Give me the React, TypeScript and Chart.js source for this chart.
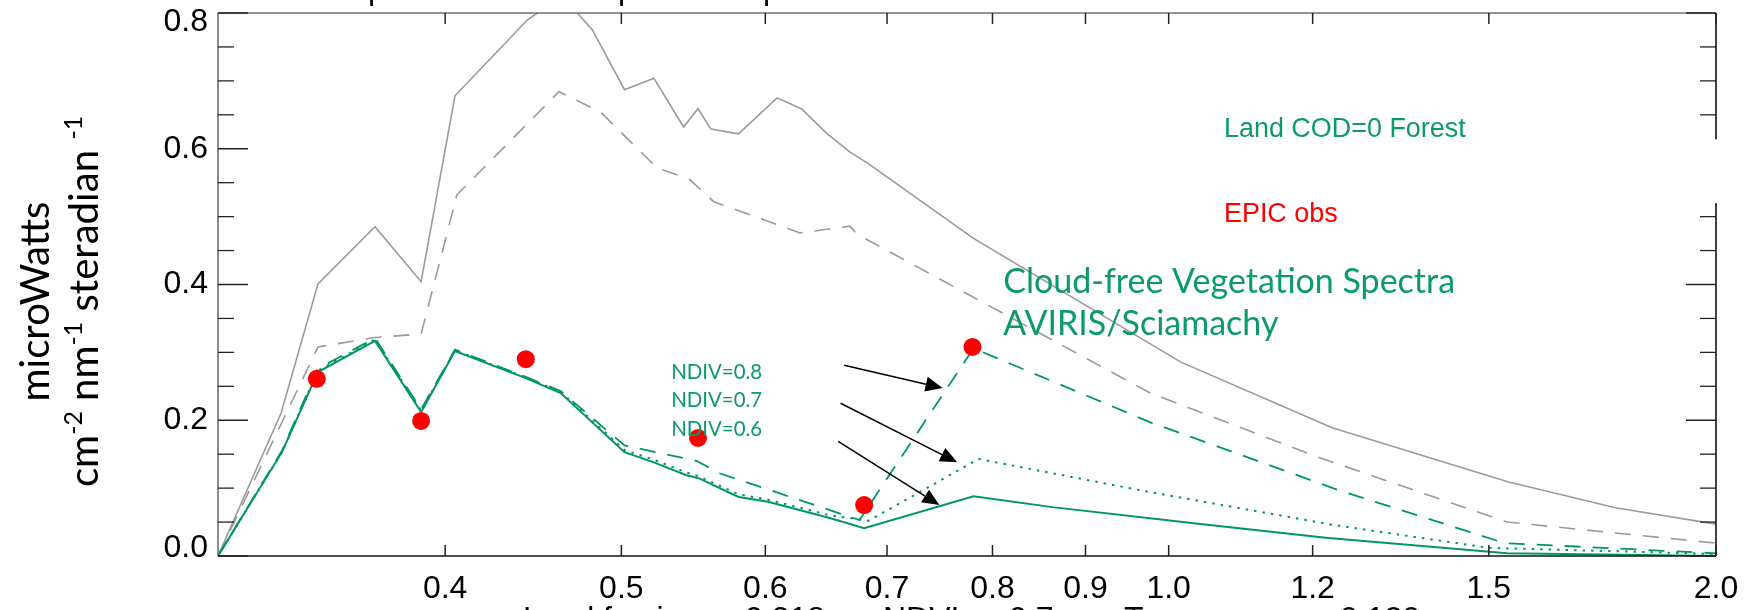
import React, { useEffect, useRef } from 'react';
import { Chart, registerables } from 'chart.js';

Chart.register(...registerables);

// ---- data (wavelength in µm, radiance) ----
const graySolidX = [0.300, 0.325, 0.3405, 0.366, 0.388, 0.405, 0.444, 0.464, 0.482, 0.502, 0.521, 0.541, 0.551, 0.560, 0.580, 0.609, 0.628, 0.649, 0.668, 0.682, 0.781, 1.015, 1.230, 1.538, 1.761, 2.000];
const graySolidY = [0.000, 0.211, 0.401, 0.485, 0.404, 0.678, 0.790, 0.825, 0.775, 0.687, 0.704, 0.632, 0.659, 0.629, 0.622, 0.675, 0.659, 0.622, 0.595, 0.580, 0.468, 0.286, 0.189, 0.109, 0.071, 0.047];

const grayDashedX = [0.300, 0.3405, 0.366, 0.388, 0.406, 0.462, 0.487, 0.523, 0.545, 0.562, 0.627, 0.668, 0.674, 0.977, 1.207, 1.535, 2.000];
const grayDashedY = [0.000, 0.308, 0.322, 0.327, 0.532, 0.684, 0.654, 0.572, 0.555, 0.522, 0.476, 0.486, 0.474, 0.240, 0.146, 0.050, 0.019];

const greenSolidX = [0.300, 0.3253, 0.3405, 0.366, 0.388, 0.405, 0.443, 0.463, 0.502, 0.521, 0.543, 0.551, 0.580, 0.602, 0.651, 0.680, 0.781, 0.863, 1.041, 1.220, 1.535, 2.000];
const greenSolidY = [0.000, 0.153, 0.271, 0.317, 0.212, 0.302, 0.262, 0.240, 0.153, 0.138, 0.119, 0.115, 0.087, 0.080, 0.056, 0.041, 0.088, 0.072, 0.047, 0.027, 0.004, 0.000];

const greenDottedX = [0.300, 0.3253, 0.3405, 0.366, 0.388, 0.405, 0.443, 0.463, 0.502, 0.521, 0.543, 0.551, 0.580, 0.602, 0.651, 0.684, 0.786, 0.977, 1.230, 1.500, 2.000];
const greenDottedY = [0.000, 0.153, 0.273, 0.319, 0.214, 0.303, 0.263, 0.242, 0.156, 0.142, 0.123, 0.118, 0.091, 0.083, 0.060, 0.052, 0.143, 0.094, 0.046, 0.012, 0.003];

const greenDashedX = [0.300, 0.3253, 0.3405, 0.366, 0.388, 0.405, 0.443, 0.463, 0.502, 0.550, 0.566, 0.676, 0.781, 0.977, 1.240, 1.530, 2.000];
const greenDashedY = [0.000, 0.155, 0.276, 0.321, 0.216, 0.304, 0.264, 0.243, 0.163, 0.140, 0.122, 0.053, 0.306, 0.197, 0.097, 0.019, 0.004];

const epicX = [0.340, 0.388, 0.443, 0.551, 0.680, 0.780];
const epicY = [0.261, 0.199, 0.290, 0.174, 0.075, 0.308];

const xTickValues = [0.4, 0.5, 0.6, 0.7, 0.8, 0.9, 1.0, 1.2, 1.5, 2.0];
const yTickValues = [0.0, 0.2, 0.4, 0.6, 0.8];
const yMinorValues = [0.05, 0.1, 0.15, 0.25, 0.3, 0.35, 0.45, 0.5, 0.55, 0.65, 0.7, 0.75];

// annotation arrows (data coords): tail -> tip
const arrowTailX = [0.663, 0.660, 0.658];
const arrowTailY = [0.281, 0.225, 0.169];
const arrowTipX = [0.751, 0.765, 0.748];
const arrowTipY = [0.2475, 0.138, 0.075];

const ndviLabels = ['NDIV=0.8', 'NDIV=0.7', 'NDIV=0.6'];
const ndviLabelY = [0.2608, 0.2195, 0.1768];

const GREEN = '#00966a';
const GREEN_TEXT = '#0b9a6b';
const GRAY = '#9a9a9a';

const pts = (xs: number[], ys: number[]) => xs.map((x, i) => ({ x, y: ys[i] }));

function fitSize(ctx: CanvasRenderingContext2D, text: string, family: string, target: number) {
  ctx.font = `100px ${family}`;
  const w = ctx.measureText(text).width;
  return (100 * target) / w;
}

const decorPlugin = {
  id: 'decor',
  afterDatasetsDraw(chart: any) {
    const { ctx, chartArea: a, scales } = chart;
    const xs = scales.x;
    const ys = scales.y;
    const line = (x1: number, y1: number, x2: number, y2: number) => {
      ctx.beginPath();
      ctx.moveTo(x1, y1);
      ctx.lineTo(x2, y2);
      ctx.stroke();
    };
    ctx.save();
    // frame
    ctx.lineWidth = 1.6;
    ctx.strokeStyle = '#707070';
    line(a.left, a.top, a.left, a.bottom);
    line(a.left, a.top, a.right, a.top);
    ctx.strokeStyle = '#111';
    line(a.left, a.bottom, a.right, a.bottom);
    line(a.right, a.top, a.right, a.bottom);
    // y ticks (inward both sides)
    ctx.strokeStyle = '#222';
    ctx.lineWidth = 1.5;
    yTickValues.forEach((v) => {
      const p = ys.getPixelForValue(v);
      line(a.left, p, a.left + 30, p);
      line(a.right, p, a.right - 30, p);
    });
    ctx.lineWidth = 1.3;
    yMinorValues.forEach((v) => {
      const p = ys.getPixelForValue(v);
      line(a.left, p, a.left + 16, p);
      line(a.right, p, a.right - 16, p);
    });
    // x ticks (inward top and bottom)
    ctx.lineWidth = 1.5;
    xTickValues.forEach((v) => {
      const p = xs.getPixelForValue(v);
      line(p, a.bottom, p, a.bottom - 11);
      line(p, a.top, p, a.top + 11);
    });
    // gap in right frame
    ctx.fillStyle = '#fff';
    const g1 = ys.getPixelForValue(0.614);
    const g2 = ys.getPixelForValue(0.52);
    ctx.fillRect(a.right - 40, g1, 70, g2 - g1);

    // arrows
    ctx.strokeStyle = '#000';
    ctx.fillStyle = '#000';
    ctx.lineWidth = 1.5;
    for (let i = 0; i < arrowTailX.length; i++) {
      const x1 = xs.getPixelForValue(arrowTailX[i]);
      const y1 = ys.getPixelForValue(arrowTailY[i]);
      const x2 = xs.getPixelForValue(arrowTipX[i]);
      const y2 = ys.getPixelForValue(arrowTipY[i]);
      const ang = Math.atan2(y2 - y1, x2 - x1);
      const hl = 17;
      const hw = 7.5;
      const bx = x2 - hl * Math.cos(ang);
      const by = y2 - hl * Math.sin(ang);
      line(x1, y1, bx, by);
      ctx.beginPath();
      ctx.moveTo(x2, y2);
      ctx.lineTo(bx + hw * Math.sin(ang), by - hw * Math.cos(ang));
      ctx.lineTo(bx - hw * Math.sin(ang), by + hw * Math.cos(ang));
      ctx.closePath();
      ctx.fill();
    }

    // text annotations
    ctx.textAlign = 'left';
    ctx.textBaseline = 'alphabetic';
    const arial = '"Liberation Sans", Arial, sans-serif';
    const lato = 'Lato, "Open Sans", sans-serif';
    const s1 = fitSize(ctx, 'Land COD=0 Forest', arial, 242);
    ctx.font = `${s1}px ${arial}`;
    ctx.fillStyle = GREEN_TEXT;
    ctx.fillText('Land COD=0 Forest', xs.getPixelForValue(1.0725), ys.getPixelForValue(0.617));
    ctx.fillStyle = '#ff0000';
    ctx.fillText('EPIC obs', xs.getPixelForValue(1.0725), ys.getPixelForValue(0.492));

    const s2 = fitSize(ctx, 'Cloud-free Vegetation Spectra', lato, 452);
    ctx.font = `${s2}px ${lato}`;
    ctx.fillStyle = GREEN_TEXT;
    ctx.fillText('Cloud-free Vegetation Spectra', xs.getPixelForValue(0.811), ys.getPixelForValue(0.3875));
    ctx.fillText('AVIRIS/Sciamachy', xs.getPixelForValue(0.811), ys.getPixelForValue(0.3256));

    const s3 = fitSize(ctx, 'NDIV=0.8', lato, 91);
    ctx.font = `${s3}px ${lato}`;
    ndviLabels.forEach((t, i) => {
      ctx.fillText(t, xs.getPixelForValue(0.5326), ys.getPixelForValue(ndviLabelY[i]));
    });

    // y axis title (rotated, with superscripts)
    const s4 = fitSize(ctx, 'microWatts', lato, 200);
    const midY = (a.top + a.bottom) / 2 + 17;
    ctx.fillStyle = '#000';
    ctx.save();
    ctx.translate(49, midY);
    ctx.rotate(-Math.PI / 2);
    ctx.font = `${s4}px ${lato}`;
    ctx.textAlign = 'center';
    ctx.fillText('microWatts', 0, 0);
    ctx.restore();

    const parts: [string, boolean][] = [
      ['cm', false], ['-2', true], [' nm', false], ['-1', true], [' steradian ', false], ['-1', true],
    ];
    const supSize = s4 * 0.62;
    let total = 0;
    const widths = parts.map(([t, sup]) => {
      ctx.font = `${sup ? supSize : s4}px ${lato}`;
      const w = ctx.measureText(t).width;
      total += w;
      return w;
    });
    ctx.save();
    ctx.translate(98, midY);
    ctx.rotate(-Math.PI / 2);
    ctx.textAlign = 'left';
    let xx = -total / 2;
    parts.forEach(([t, sup], i) => {
      ctx.font = `${sup ? supSize : s4}px ${lato}`;
      ctx.fillText(t, xx, sup ? -s4 * 0.4 : 0);
      xx += widths[i];
    });
    ctx.restore();

    // clipped title descenders (top) and clipped x-axis title (bottom)
    ctx.font = `32px ${arial}`;
    ctx.fillStyle = '#000';
    ctx.textAlign = 'left';
    [371, 621, 766].forEach((px) => ctx.fillText('p', px - 3, -1));
    const bottomParts: [string, number][] = [
      ['Land forcing', 523], ['0.318', 745], ['NDVI=', 883], ['0.7', 1009], ['Tau=', 1124], ['0.120', 1340],
    ];
    bottomParts.forEach(([t, px]) => ctx.fillText(t, px, 629));

    ctx.restore();
  },
};

export default function App() {
  const canvasRef = useRef<HTMLCanvasElement | null>(null);

  useEffect(() => {
    const canvas = canvasRef.current;
    if (!canvas) return;
    const tickFamily = '"Liberation Sans", Arial, sans-serif';
    const TS = 32;
    const chart = new Chart(canvas, {
      type: 'line',
      data: {
        datasets: [
          {
            label: 'EPIC obs',
            data: pts(epicX, epicY),
            showLine: false,
            pointRadius: 9,
            pointHoverRadius: 9,
            pointBackgroundColor: '#ff0000',
            pointBorderWidth: 0,
            borderColor: '#ff0000',
            backgroundColor: '#ff0000',
          },
          {
            label: 'NDVI 0.8',
            data: pts(greenDashedX, greenDashedY),
            borderColor: GREEN,
            borderWidth: 1.8,
            borderDash: [16, 12],
            pointRadius: 0,
            tension: 0,
            fill: false,
            clip: 0,
          },
          {
            label: 'NDVI 0.7',
            data: pts(greenDottedX, greenDottedY),
            borderColor: GREEN,
            borderWidth: 2,
            borderDash: [2.5, 6],
            pointRadius: 0,
            tension: 0,
            fill: false,
            clip: 0,
          },
          {
            label: 'NDVI 0.6',
            data: pts(greenSolidX, greenSolidY),
            borderColor: GREEN,
            borderWidth: 2,
            pointRadius: 0,
            tension: 0,
            fill: false,
            clip: 0,
          },
          {
            label: 'gray dashed',
            data: pts(grayDashedX, grayDashedY),
            borderColor: GRAY,
            borderWidth: 1.6,
            borderDash: [16, 12],
            pointRadius: 0,
            tension: 0,
            fill: false,
            clip: 0,
          },
          {
            label: 'gray solid',
            data: pts(graySolidX, graySolidY),
            borderColor: GRAY,
            borderWidth: 1.6,
            pointRadius: 0,
            tension: 0,
            fill: false,
            clip: 0,
          },
        ],
      },
      options: {
        animation: false,
        responsive: false,
        devicePixelRatio: 1,
        layout: { padding: { left: 0, top: 13, right: 30, bottom: 0 } },
        plugins: { legend: { display: false }, tooltip: { enabled: false }, title: { display: false } },
        events: [],
        scales: {
          x: {
            type: 'logarithmic',
            min: 0.3,
            max: 2.0,
            grid: { display: false, drawTicks: false },
            border: { display: false },
            afterBuildTicks: (s: any) => {
              s.ticks = xTickValues.map((v) => ({ value: v }));
            },
            afterFit: (s: any) => {
              s.height = 54;
              s.paddingLeft = 0;
              s.paddingRight = 0;
            },
            ticks: {
              autoSkip: false,
              maxRotation: 0,
              minRotation: 0,
              padding: 14,
              color: '#000',
              font: { family: tickFamily, size: TS },
              callback: (v: any) => Number(v).toFixed(1),
            },
          },
          y: {
            type: 'linear',
            min: 0,
            max: 0.8,
            grid: { display: false, drawTicks: false },
            border: { display: false },
            afterBuildTicks: (s: any) => {
              s.ticks = yTickValues.map((v) => ({ value: v }));
            },
            afterFit: (s: any) => {
              s.width = 218;
              s.paddingTop = 0;
              s.paddingBottom = 0;
            },
            ticks: {
              padding: 10,
              color: '#000',
              font: (c: any) => {
                const v = c.tick ? c.tick.value : null;
                if (v === 0.8) return { family: tickFamily, size: TS, lineHeight: 19 / TS };
                if (v === 0) return { family: tickFamily, size: TS, lineHeight: 16 / TS };
                return { family: tickFamily, size: TS };
              },
              callback: (v: any) => {
                const n = Number(v);
                if (n === 0.8) return ['', n.toFixed(1)];
                if (n === 0) return [n.toFixed(1), ''];
                return n.toFixed(1);
              },
            },
          },
        },
      },
      plugins: [decorPlugin],
    } as any);
    return () => chart.destroy();
  }, []);

  return (
    <div style={{ position: 'fixed', left: 0, top: 0, width: 1746, height: 610, background: '#fff' }}>
      <canvas ref={canvasRef} width={1746} height={610} style={{ display: 'block' }} />
    </div>
  );
}
